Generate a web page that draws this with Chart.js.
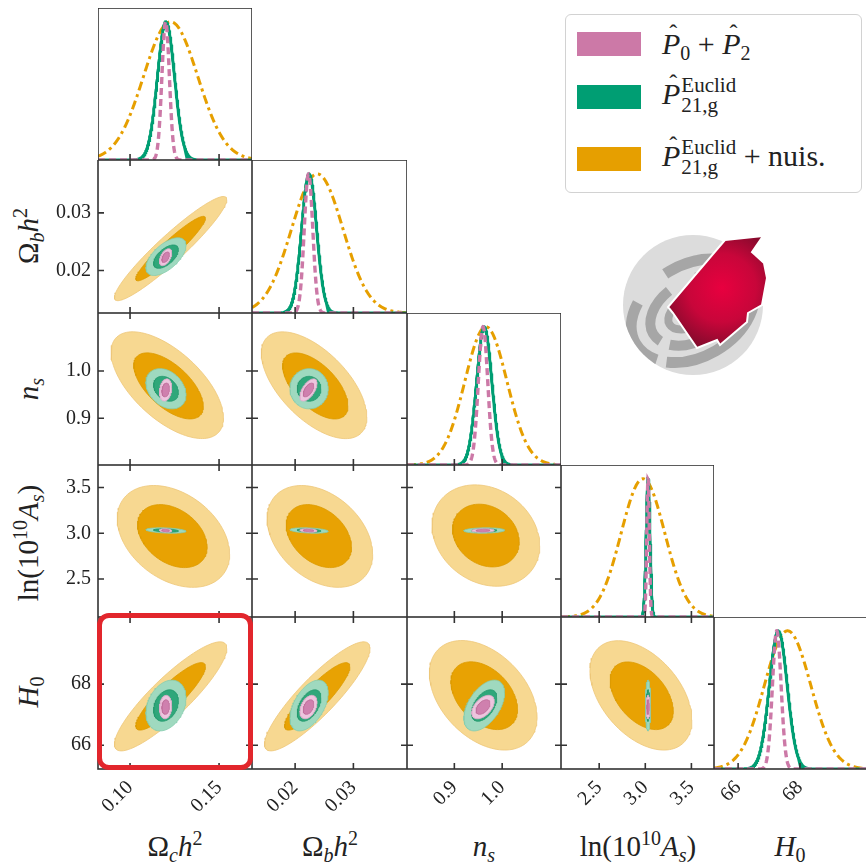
<!DOCTYPE html>
<html>
<head>
<meta charset="utf-8">
<script src="https://cdn.jsdelivr.net/npm/chart.js@4.4.1/dist/chart.umd.min.js"></script>
<style>
body { margin: 0; background: #fff; }
#fig { position: relative; width: 866px; height: 864px; overflow: hidden; font-family: "Liberation Serif", serif; color: #222; }
#fig canvas { position: absolute; }
.lab { position: absolute; font-size: 29px; white-space: nowrap; transform: translate(-50%, -50%); line-height: 1; }
.lab.rot { transform: translate(-50%, -50%) rotate(-90deg); }
.lab sub, .lab sup { font-size: 20px; line-height: 0; }
#legend { position: absolute; left: 565px; top: 14px; width: 297px; height: 179px; box-sizing: border-box;
  border: 1.5px solid #d2d2d2; border-radius: 6px; background: #fff; }
.row { position: absolute; left: 11px; display: flex; align-items: center; font-size: 30px; white-space: nowrap; }
.sw { width: 64px; height: 24px; margin-right: 21px; }
.hat { position: relative; display: inline-block; font-style: italic; }
.hat::after { content: "\02C6"; position: absolute; left: 0.3em; top: -0.28em; font-style: normal; font-size: 0.8em; }
.row sub { font-size: 20px; vertical-align: -6px; line-height: 0; }
.ss { display: inline-flex; flex-direction: column; font-size: 21px; line-height: 20px; vertical-align: middle; margin-left: 1px; position: relative; top: -2px; }
#hl { position: absolute; left: 97px; top: 613px; width: 156px; height: 157px; box-sizing: border-box;
  border: 5px solid #E2262C; border-radius: 12px; }
#logo { position: absolute; left: 0; top: 0; }
</style>
</head>
<body>
<div id="fig">
  <svg id="logo" width="866" height="864">
    <defs>
      <radialGradient id="rg" cx="722" cy="288" r="62" gradientUnits="userSpaceOnUse">
        <stop offset="0" stop-color="#E8003F"/>
        <stop offset="0.55" stop-color="#C8063A"/>
        <stop offset="1" stop-color="#840A2C"/>
      </radialGradient>
      <clipPath id="cc"><circle cx="693" cy="305" r="70"/></clipPath>
    </defs>
    <circle cx="693" cy="305" r="70" fill="#DCDCDC"/>
    <g clip-path="url(#cc)" fill="none" stroke="#A6A6A6">
      <g transform="rotate(-30 693 305)">
        <ellipse cx="690" cy="310" rx="66" ry="46" stroke-width="11" stroke-dasharray="140 10 70 40"/>
        <ellipse cx="690" cy="310" rx="46" ry="30" stroke-width="10" stroke-dasharray="100 10 60 30"/>
        <ellipse cx="690" cy="310" rx="27" ry="15" stroke-width="8"/>
      </g>
    </g>
    <path d="M763,236 L725,240 L668,307 L673,313 L697,348 L717,340 L720,345 L747,322 L748,313 L762,305 L767,278 L764,263 L752,252 Z"
      fill="url(#rg)" stroke="#fff" stroke-width="2"/>
  </svg>

  <div id="legend">
    <div class="row" style="top:12px"><div class="sw" style="background:#CC79A7"></div>
      <span><span class="hat">P</span><sub>0</sub> + <span class="hat">P</span><sub>2</sub></span></div>
    <div class="row" style="top:62px"><div class="sw" style="background:#009E73"></div>
      <span><span class="hat">P</span><span class="ss"><span>Euclid</span><span>21,g</span></span></span></div>
    <div class="row" style="top:124px"><div class="sw" style="background:#E69F00"></div>
      <span><span class="hat">P</span><span class="ss"><span>Euclid</span><span>21,g</span></span> + nuis.</span></div>
  </div>

  <div class="lab" style="left:175px;top:846px">&Omega;<sub><i>c</i></sub><i>h</i><sup>2</sup></div>
  <div class="lab" style="left:330px;top:846px">&Omega;<sub><i>b</i></sub><i>h</i><sup>2</sup></div>
  <div class="lab" style="left:484px;top:846px"><i>n</i><sub><i>s</i></sub></div>
  <div class="lab" style="left:638px;top:846px">ln(10<sup>10</sup><i>A</i><sub><i>s</i></sub>)</div>
  <div class="lab" style="left:790px;top:846px"><i>H</i><sub>0</sub></div>

  <div class="lab rot" style="left:28px;top:236px">&Omega;<sub><i>b</i></sub><i>h</i><sup>2</sup></div>
  <div class="lab rot" style="left:28px;top:389px"><i>n</i><sub><i>s</i></sub></div>
  <div class="lab rot" style="left:28px;top:543px">ln(10<sup>10</sup><i>A</i><sub><i>s</i></sub>)</div>
  <div class="lab rot" style="left:28px;top:692px"><i>H</i><sub>0</sub></div>

  <div id="hl"></div>
</div>

<script>
// parameter order: Omega_c h^2, Omega_b h^2, n_s, ln(10^10 A_s), H0
const axisMin = [0.082, 0.0126, 0.801, 2.086, 65.22];
const axisMax = [0.1685, 0.0392, 1.123, 3.745, 70.2];
const tickVals = [[0.10, 0.15], [0.02, 0.03], [0.9, 1.0], [2.5, 3.0, 3.5], [66, 68]];
const tickText = [['0.10', '0.15'], ['0.02', '0.03'], ['0.9', '1.0'], ['2.5', '3.0', '3.5'], ['66', '68']];

// P0 + P2 (pink)
const meanP02 = [0.1200, 0.0223, 0.960, 3.03, 67.25];
const sd1dP02 = [0.0021, 0.00073, 0.0098, 0.014, 0.14];
const sd2dP02 = [0.0014, 0.0006, 0.0096, 0.008, 0.157];
// P21,g Euclid (green)
const meanEuc = [0.1202, 0.0224, 0.9625, 3.03, 67.3];
const sd1dEuc = [0.0048, 0.0013, 0.016, 0.021, 0.29];
const sd2dEuc = [0.0046, 0.00134, 0.0174, 0.012, 0.34];
// P21,g Euclid + nuisance (orange)
const meanNuis = [0.1228, 0.0238, 0.966, 2.975, 67.6];
const sd1dNuis = [0.0152, 0.0044, 0.044, 0.237, 0.75];
const sd2dNuis = [0.0129, 0.0037, 0.046, 0.226, 0.73];

// per panel, order (row,col): (1,0) (2,0) (2,1) (3,0) (3,1) (3,2) (4,0) (4,1) (4,2) (4,3)
const rhoP02 = [0.5, 0.2, 0.6, -0.2, -0.2, 0.1, 0.1, 0.4, 0.5, 0.0];
const rhoEuc = [0.6, -0.3, 0.0, -0.3, -0.3, 0.1, 0.3, 0.5, 0.5, 0.0];
const rhoNuis = [0.94, -0.62, -0.6, -0.35, -0.35, -0.2, 0.88, 0.88, -0.4, -0.45];
// contour asymmetry (egg shape) along the correlation direction
const skewP02 = [0, 0, 0, 0, 0, 0, 0, 0, 0, 0];
const skewEuc = [0, 0, 0, 0, 0, 0, 0, 0, 0, 0];
const skewNuis = [0, -0.12, -0.12, 0.1, 0.1, 0, 0, 0, -0.1, -0.08];

const levels = [2.448, 1.515]; // 95% and 68% radii in sigma units

const sets = [
  {mean: meanNuis, sd1: sd1dNuis, sd2: sd2dNuis, rho: rhoNuis, skew: skewNuis, line: '#E69F00', dash: [9, 4, 3, 4], width: 3,
   fills: ['#F7D891', '#E8A203'], edges: ['#EDC778', '#DC9A00']},
  {mean: meanEuc, sd1: sd1dEuc, sd2: sd2dEuc, rho: rhoEuc, skew: skewEuc, line: '#009E73', dash: [], width: 3,
   fills: ['#9FD9BF', '#2FA77A'], edges: ['#86CDAE', '#23996D']},
  {mean: meanP02, sd1: sd1dP02, sd2: sd2dP02, rho: rhoP02, skew: skewP02, line: '#CC79A7', dash: [7, 4], width: 3.4,
   fills: ['#EDC5DE', '#CF80AE'], edges: ['#E2B0CF', '#C06E9C']}
];

const colX = [98, 252, 407, 561, 714, 868];
const rowY = [8, 160, 313, 465, 617, 769];
const yAxisW = 98, xAxisH = 95;
const tickFont = {family: 'Liberation Serif', size: 20};

function gauss1d(m, s, lo, hi) {
  const pts = [];
  for (let i = 0; i <= 600; i++) {
    const x = lo + (hi - lo) * i / 600;
    pts.push({x: x, y: Math.exp(-0.5 * ((x - m) / s) ** 2)});
  }
  return pts;
}

function ellipse(mx, my, sx, sy, rho, k, skew) {
  const pts = [];
  const q = Math.sqrt(1 - rho * rho);
  // the egg distortion moves the middle, shift it back
  const cx = mx - 0.5 * skew * k * sx, cy = my - 0.5 * skew * k * sy * rho;
  for (let i = 0; i <= 120; i++) {
    const t = i / 120 * 2 * Math.PI;
    const f = k * (1 + skew * Math.cos(t));
    pts.push({x: cx + f * sx * Math.cos(t), y: cy + f * sy * (rho * Math.cos(t) + q * Math.sin(t))});
  }
  return pts;
}

// frame + inward ticks on every panel
const frame = {
  id: 'frame',
  afterDatasetsDraw(chart, args, o) {
    const {ctx, chartArea: a} = chart;
    const xs = chart.scales.x, ys = chart.scales.y;
    ctx.save();
    ctx.strokeStyle = '#333';
    ctx.lineWidth = 1.6;
    ctx.beginPath();
    o.xt.forEach(v => {
      const p = xs.getPixelForValue(v);
      ctx.moveTo(p, a.bottom); ctx.lineTo(p, a.bottom - 6);
      if (!o.diag) { ctx.moveTo(p, a.top); ctx.lineTo(p, a.top + 6); }
    });
    o.yt.forEach(v => {
      const p = ys.getPixelForValue(v);
      ctx.moveTo(a.left, p); ctx.lineTo(a.left + 6, p);
      ctx.moveTo(a.right, p); ctx.lineTo(a.right - 6, p);
    });
    ctx.stroke();
    ctx.strokeRect(a.left, a.top, a.right - a.left, a.bottom - a.top);
    ctx.restore();
  }
};

const fig = document.getElementById('fig');
const hl = document.getElementById('hl');

for (let r = 0; r < 5; r++) {
  for (let c = 0; c <= r; c++) {
    const diag = r === c;
    const hasY = c === 0 && r > 0;
    const hasX = r === 4;
    const cv = document.createElement('canvas');
    cv.width = colX[c + 1] - colX[c] + (hasY ? yAxisW : 0);
    cv.height = rowY[r + 1] - rowY[r] + (hasX ? xAxisH : 0);
    cv.style.left = (colX[c] - (hasY ? yAxisW : 0)) + 'px';
    cv.style.top = rowY[r] + 'px';
    fig.insertBefore(cv, hl);

    let datasets = [];
    if (diag) {
      sets.forEach(s => {
        datasets.push({
          data: gauss1d(s.mean[c], s.sd1[c], axisMin[c], axisMax[c]),
          showLine: true, fill: false, borderColor: s.line, borderWidth: s.width,
          borderDash: s.dash, pointRadius: 0, tension: 0
        });
      });
    } else {
      const k = r * (r - 1) / 2 + c;
      sets.forEach(s => {
        levels.forEach((lv, j) => {
          datasets.push({
            data: ellipse(s.mean[c], s.mean[r], s.sd2[c], s.sd2[r], s.rho[k], lv, s.skew[k]),
            showLine: true, fill: 'shape', backgroundColor: s.fills[j], borderColor: s.edges[j],
            borderWidth: 0.8, pointRadius: 0, tension: 0
          });
        });
      });
    }
    // first dataset is drawn on top in Chart.js, so put the bottom layer last
    datasets = datasets.reverse();

    const xScale = {
      type: 'linear', display: hasX, min: axisMin[c], max: axisMax[c],
      afterBuildTicks: s => { s.ticks = tickVals[c].map(v => ({value: v})); },
      ticks: {callback: (v, i) => tickText[c][i], font: tickFont, color: '#222',
              minRotation: 45, maxRotation: 45, padding: 7},
      grid: {display: false, drawTicks: false}, border: {display: false}
    };
    if (hasX) xScale.afterFit = s => { s.height = xAxisH; s.paddingLeft = 0; s.paddingRight = 0; };

    const yScale = {
      type: 'linear', display: hasY,
      min: diag ? 0 : axisMin[r], max: diag ? 1.1 : axisMax[r],
      afterBuildTicks: s => { s.ticks = diag ? [] : tickVals[r].map(v => ({value: v})); },
      ticks: {callback: (v, i) => tickText[r][i], font: tickFont, color: '#222', padding: 7},
      grid: {display: false, drawTicks: false}, border: {display: false}
    };
    if (hasY) yScale.afterFit = s => { s.width = yAxisW; s.paddingTop = 0; s.paddingBottom = 0; };

    new Chart(cv, {
      type: 'scatter',
      data: {datasets: datasets},
      options: {
        responsive: false, animation: false, devicePixelRatio: 1, events: [],
        layout: {padding: 0},
        plugins: {
          legend: {display: false}, tooltip: {enabled: false},
          frame: {xt: tickVals[c], yt: diag ? [] : tickVals[r], diag: diag}
        },
        scales: {x: xScale, y: yScale}
      },
      plugins: [frame]
    });
  }
}
</script>
</body>
</html>
